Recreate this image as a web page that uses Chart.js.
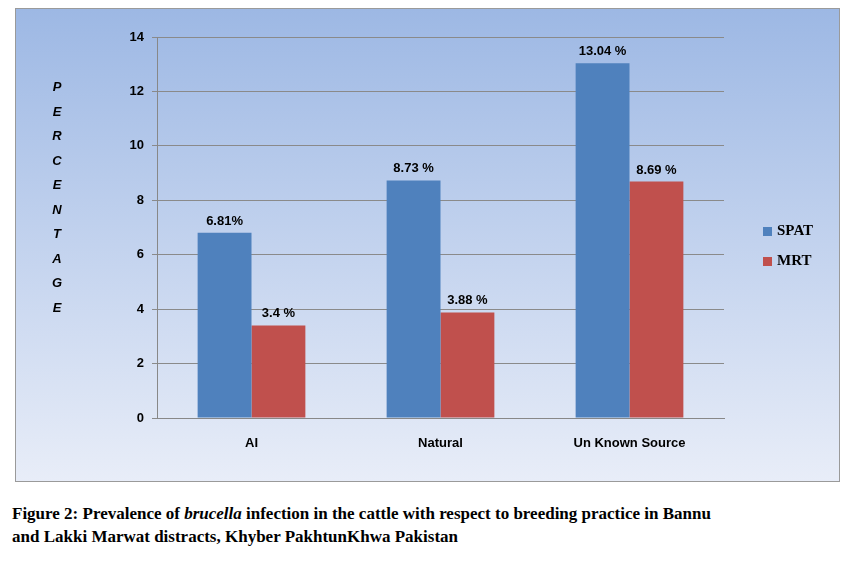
<!DOCTYPE html>
<html>
<head>
<script src="https://cdn.jsdelivr.net/npm/chart.js@4"></script>
<style>
body { margin: 0; background: #fff; width: 855px; height: 561px; position: relative; }
#box { position: absolute; left: 15px; top: 8px; width: 825px; height: 474px; border: 1px solid #9a9a9a; box-sizing: border-box; }
#box canvas { display: block; }
#caption { position: absolute; left: 12px; top: 502px; width: 845px; font: bold 17px "Liberation Serif", serif; line-height: 23px; color: #000; white-space: nowrap; }
</style>
</head>
<body>
<div id="box"><canvas id="chart" width="823" height="472"></canvas></div>
<div id="caption">Figure 2: Prevalence of <i>brucella</i> infection in the cattle with respect to breeding practice in Bannu<br>and Lakki Marwat distracts, Khyber PakhtunKhwa Pakistan</div>
<script>
var categories = ['AI', 'Natural', 'Un Known Source'];
var spatValues = [6.81, 8.73, 13.04];
var mrtValues = [3.4, 3.88, 8.69];
var spatLabels = ['6.81%', '8.73 %', '13.04 %'];
var mrtLabels = ['3.4 %', '3.88 %', '8.69 %'];
var yLetters = ['P', 'E', 'R', 'C', 'E', 'N', 'T', 'A', 'G', 'E'];

var decor = {
    id: 'decor',
    beforeDraw: function(chart) {
        var ctx = chart.ctx;
        var g = ctx.createLinearGradient(0, 0, 0, chart.height);
        g.addColorStop(0, '#9db8e4');
        g.addColorStop(1, '#e8edf8');
        ctx.save();
        ctx.fillStyle = g;
        ctx.fillRect(0, 0, chart.width, chart.height);
        ctx.restore();
    },
    afterDraw: function(chart) {
        var ctx = chart.ctx;
        ctx.save();
        ctx.fillStyle = '#000';
        ctx.font = 'bold 13px "Liberation Sans", sans-serif';
        ctx.textAlign = 'center';
        [spatLabels, mrtLabels].forEach(function(labels, d) {
            chart.getDatasetMeta(d).data.forEach(function(bar, i) {
                ctx.fillText(labels[i], bar.x, bar.y - 8);
            });
        });
        ctx.font = 'bold italic 13px "Liberation Sans", sans-serif';
        yLetters.forEach(function(ch, i) {
            ctx.fillText(ch, 41, 82 + i * 24.5);
        });
        var items = [['SPAT', '#4f81bd'], ['MRT', '#c0504d']];
        ctx.textAlign = 'left';
        ctx.textBaseline = 'middle';
        ctx.font = 'bold 15px "Liberation Serif", serif';
        items.forEach(function(it, i) {
            var y = 222 + i * 30;
            ctx.fillStyle = it[1];
            ctx.fillRect(747, y - 4, 9, 9);
            ctx.fillStyle = '#000';
            ctx.fillText(it[0], 761, y);
        });
        ctx.restore();
    }
};

new Chart(document.getElementById('chart'), {
    type: 'bar',
    data: {
        labels: categories,
        datasets: [
            { label: 'SPAT', data: spatValues, backgroundColor: '#4f81bd', categoryPercentage: 0.57, barPercentage: 1 },
            { label: 'MRT', data: mrtValues, backgroundColor: '#c0504d', categoryPercentage: 0.57, barPercentage: 1 }
        ]
    },
    options: {
        responsive: false,
        animation: false,
        layout: { padding: { left: 99, top: 28, right: 115, bottom: 33 } },
        plugins: { legend: { display: false }, tooltip: { enabled: false } },
        scales: {
            x: {
                afterFit: function(s) { s.height = 30; },
                grid: { display: false },
                border: { color: '#888' },
                ticks: { color: '#000', font: { family: 'Liberation Sans', weight: 'bold', size: 13 }, padding: 10 }
            },
            y: {
                min: 0, max: 14,
                afterFit: function(s) { s.width = 42; },
                ticks: { stepSize: 2, color: '#000', font: { family: 'Liberation Sans', weight: 'bold', size: 13 }, padding: 8 },
                grid: { color: '#8a8a8a', tickLength: 5 },
                border: { color: '#888' }
            }
        }
    },
    plugins: [decor]
});
</script>
</body>
</html>
